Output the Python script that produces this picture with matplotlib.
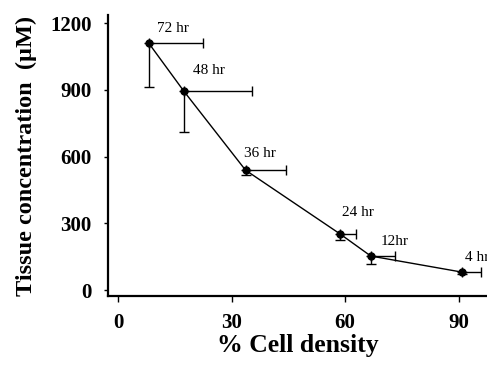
import matplotlib
matplotlib.use("Agg")
import matplotlib.pyplot as plt

density = [8.2, 17.4, 33.7, 58.7, 66.8, 90.8]
conc = [1108, 894, 539, 252, 153, 81]
xerr_hi = [14.2, 18.1, 10.7, 4.2, 6.4, 5.2]
yerr_lo = [196, 184, 22, 27, 36, 8]
labels = ['72 hr', '48 hr', '36 hr', '24 hr', '12hr', '4 hr']
label_pos = [(14.5, 1175), (24, 985), (37.5, 615), (63.5, 350), (73, 218), (95, 148)]

plt.rcParams['font.family'] = ['Liberation Serif', 'DejaVu Serif']

fig = plt.figure(figsize=(4.87, 3.66), dpi=100)
ax = fig.add_axes([0.222, 0.191, 0.778, 0.768])

ax.plot(density, conc, 'k-', lw=1.0)
ax.errorbar(density, conc, xerr=[[0] * 6, xerr_hi], yerr=[yerr_lo, [0] * 6],
            fmt='o', color='k', ms=5, elinewidth=1.0, capsize=3.5, capthick=1.0)

for (tx, ty), lab in zip(label_pos, labels):
    ax.text(tx, ty, lab, ha='center', va='center', fontsize=11)

ax.set_xlim(-2.6, 97.5)
ax.set_ylim(-27, 1236)
ax.set_xticks([0, 30, 60, 90])
ax.set_yticks([0, 300, 600, 900, 1200])
for s in ['top', 'right']:
    ax.spines[s].set_visible(False)
for s in ['left', 'bottom']:
    ax.spines[s].set_linewidth(1.6)
ax.tick_params(axis='x', length=4, width=1, pad=8, labelsize=15)
ax.tick_params(axis='y', length=3, width=1, pad=9, labelsize=15)
for t in ax.get_xticklabels() + ax.get_yticklabels():
    t.set_fontweight('bold')

ax.set_xlabel('% Cell density', fontsize=18.5, fontweight='bold', labelpad=1)
ax.set_ylabel('Tissue concentration  (\u00b5M)', fontsize=17.5, fontweight='bold', labelpad=9)

fig.savefig('out.png', dpi=100)
